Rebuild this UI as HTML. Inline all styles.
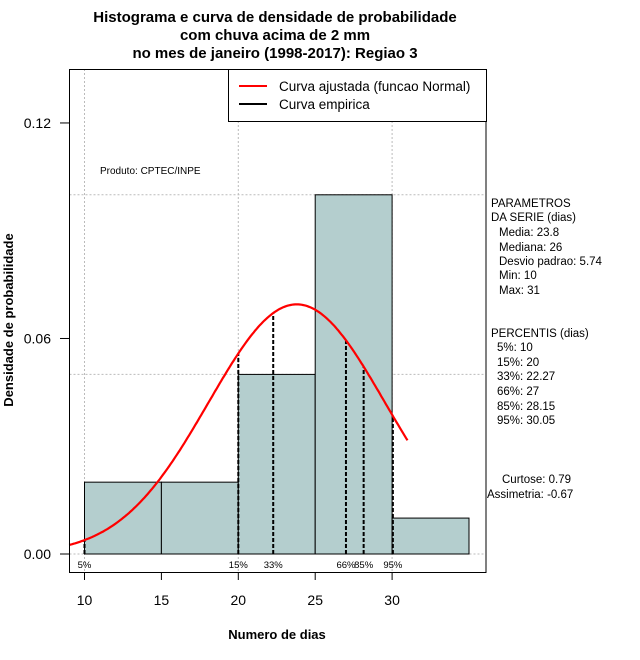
<!DOCTYPE html>
<html><head><meta charset="utf-8"><style>
body{margin:0;background:#fff}
svg{display:block;font-family:"Liberation Sans",sans-serif}
</style></head><body>
<svg id="c" width="640" height="660" xmlns="http://www.w3.org/2000/svg">
<text x="275" y="22" text-anchor="middle" font-size="15" font-weight="bold">Histograma e curva de densidade de probabilidade</text>
<text x="275" y="40" text-anchor="middle" font-size="15" font-weight="bold">com chuva acima de 2 mm</text>
<text x="275" y="58" text-anchor="middle" font-size="15" font-weight="bold">no mes de janeiro (1998-2017): Regiao 3</text>
<text x="277" y="639" text-anchor="middle" font-size="13" font-weight="bold">Numero de dias</text>
<text transform="translate(13,320) rotate(-90)" text-anchor="middle" font-size="13" font-weight="bold">Densidade de probabilidade</text>
<g id="grid"></g><g id="bars"></g><g id="pct"></g><g id="curve"></g><g id="axes"></g>
<text x="100" y="174" font-size="10">Produto: CPTEC/INPE</text>
<g>
<rect x="228.5" y="69.5" width="258" height="52" fill="#fff" stroke="#000"/>
<line x1="239" y1="86" x2="267" y2="86" stroke="#f00" stroke-width="2"/>
<text x="279" y="91" font-size="13.5">Curva ajustada (funcao Normal)</text>
<line x1="239" y1="104" x2="267" y2="104" stroke="#000" stroke-width="2"/>
<text x="279" y="109" font-size="13.5">Curva empirica</text>
</g>
<g font-size="11.5">
<text x="491" y="207">PARAMETROS</text><text x="491" y="221">DA SERIE (dias)</text>
<text x="499" y="236">Media: 23.8</text><text x="499" y="251">Mediana: 26</text>
<text x="499" y="265">Desvio padrao: 5.74</text><text x="499" y="279">Min: 10</text><text x="499" y="294">Max: 31</text>
<text x="491" y="337">PERCENTIS (dias)</text>
<text x="497" y="351">5%: 10</text><text x="497" y="366">15%: 20</text><text x="497" y="380">33%: 22.27</text>
<text x="497" y="395">66%: 27</text><text x="497" y="410">85%: 28.15</text><text x="497" y="424">95%: 30.05</text>
<text x="502" y="483">Curtose: 0.79</text><text x="487" y="498">Assimetria: -0.67</text>
</g>
</svg>
<script>
const binStarts=[10,15,20,25,30];
const binDensity=[0.02,0.02,0.05,0.10,0.01];
const binWidth=5;
const pctLabels=["5%","15%","33%","66%","85%","95%"];
const pctValues=[10,20,22.27,27,28.15,30.05];
const xTicks=[10,15,20,25,30];
const yTicks=[0,0.06,0.12];
const yTickLabels=["0.00","0.06","0.12"];
const fitMean=23.8, fitSd=5.74;
const NS="http://www.w3.org/2000/svg";
const X=v=>84.5+(v-10)*15.38;
const Y=d=>554-d*3592;
function mk(p,t,a){const e=document.createElementNS(NS,t);for(const k in a)e.setAttribute(k,a[k]);document.getElementById(p)?document.getElementById(p).appendChild(e):p.appendChild(e);return e;}
const dn=x=>Math.exp(-0.5*((x-fitMean)/fitSd)**2)/(fitSd*Math.sqrt(2*Math.PI));
// grid
[10,20,30].forEach(v=>{const e=mk('grid','line',{x1:X(v),x2:X(v),y1:69,y2:573,stroke:'#bbb','stroke-dasharray':'2,2'});

});
[0,0.05,0.1].forEach(v=>{const e=mk('grid','line',{x1:69.5,x2:486,y1:Y(v),y2:Y(v),stroke:'#bbb','stroke-dasharray':'2,2'});

});
// bars
binStarts.forEach((s,i)=>{const e=mk('bars','rect',{x:X(s),y:Y(binDensity[i]),width:X(s+binWidth)-X(s),height:Y(0)-Y(binDensity[i]),fill:'#b4cece',stroke:'#000'});

});
mk('bars','line',{x1:X(10),x2:X(35),y1:Y(0),y2:Y(0),stroke:'#000','stroke-dasharray':'1,2'});
// percentiles
pctValues.forEach((v,i)=>{const e=mk('pct','line',{x1:X(v),x2:X(v),y1:Y(0),y2:Y(dn(v)),stroke:'#000','stroke-width':2,'stroke-dasharray':'4,2'});


const t=mk('pct','text',{x:X(v),y:568,'font-size':9.5,'text-anchor':'middle'});t.textContent=pctLabels[i];

});
// curve
let d='';for(let v=9;v<=31.0001;v+=0.1)d+=(d?'L':'M')+X(v).toFixed(1)+','+Y(dn(v)).toFixed(1);
const cv=mk('curve','path',{d:d,fill:'none',stroke:'#f00','stroke-width':2.2});


// axes
mk('axes','rect',{x:69.5,y:69.5,width:416.5,height:503,fill:'none',stroke:'#000'});
xTicks.forEach(v=>{mk('axes','line',{x1:X(v),x2:X(v),y1:573,y2:580,stroke:'#000'});
const t=mk('axes','text',{x:X(v),y:605,'font-size':14,'text-anchor':'middle'});t.textContent=v;

});
yTicks.forEach((v,i)=>{mk('axes','line',{x1:60,x2:69.5,y1:Y(v),y2:Y(v),stroke:'#000'});
const t=mk('axes','text',{x:51,y:Y(v)+5,'font-size':14,'text-anchor':'end'});t.textContent=yTickLabels[i];

});
</script>
</body></html>
